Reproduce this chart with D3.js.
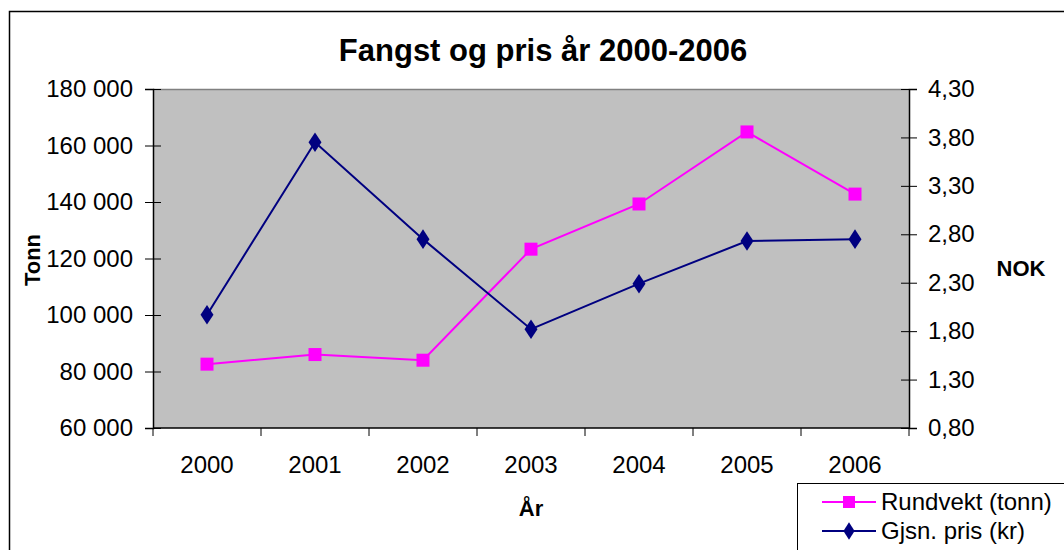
<!DOCTYPE html>
<html><head><meta charset="utf-8">
<script src="https://cdn.jsdelivr.net/npm/d3@7/dist/d3.min.js"></script>
<style>body{margin:0;background:#fff}svg{display:block}text{font-family:"Liberation Sans",Arial,sans-serif}</style>
</head><body><svg id="c" width="1064" height="550"></svg>
<script>
const years = ["2000","2001","2002","2003","2004","2005","2006"];
const rundvekt = [82600, 86000, 84000, 123300, 139300, 164800, 142800];
const pris = [1.97, 3.75, 2.75, 1.82, 2.29, 2.73, 2.75];
const leftTicks = [60000, 80000, 100000, 120000, 140000, 160000, 180000];
const rightTicks = [0.8, 1.3, 1.8, 2.3, 2.8, 3.3, 3.8, 4.3];

const svg = d3.select("#c");
const L = 153, R = 909, T = 89, B = 428;

svg.append("rect").attr("x", 9.5).attr("y", 11.5).attr("width", 1070).attr("height", 560)
  .attr("fill", "#fff").attr("stroke", "#000").attr("stroke-width", 1.5);

const x = d3.scaleBand().domain(years).range([L, R]).padding(0);
const yL = d3.scaleLinear().domain([60000, 180000]).range([B, T]);
const yR = d3.scaleLinear().domain([0.8, 4.3]).range([B, T]);

svg.append("rect").attr("x", L).attr("y", T).attr("width", R - L).attr("height", B - T).attr("fill", "#C0C0C0");
svg.append("line").attr("x1", L).attr("x2", R).attr("y1", T + 0.5).attr("y2", T + 0.5).attr("stroke", "#808080").attr("stroke-width", 1.5);

const fmtL = d => d3.format(",")(d).replace(/,/g, " ");
const fmtR = d => d3.format(".2f")(d).replace(".", ",");

const gL = svg.append("g").attr("transform", `translate(${L},0)`)
  .call(d3.axisLeft(yL).tickValues(leftTicks).tickFormat(fmtL).tickSize(8).tickPadding(12));
gL.selectAll(".tick line").attr("x2", -8).attr("x1", 8);
const gR = svg.append("g").attr("transform", `translate(${R},0)`)
  .call(d3.axisRight(yR).tickValues(rightTicks).tickFormat(fmtR).tickSize(8).tickPadding(11));
gR.selectAll(".tick line").attr("x1", -8).attr("x2", 8);
const gX = svg.append("g").attr("transform", `translate(0,${B})`)
  .call(d3.axisBottom(x).tickSize(0).tickPadding(28));
const bounds = years.map(d => x(d)).concat([R]);
gX.selectAll(".bt").data(bounds).enter().append("line").attr("class", "bt")
  .attr("x1", d => d).attr("x2", d => d).attr("y1", 0).attr("y2", 8).attr("stroke", "#000");

[gL, gR, gX].forEach(g => {
  g.selectAll("text").attr("font-size", 24).attr("fill", "#000").attr("font-family", '"Liberation Sans",Arial,sans-serif');
  g.selectAll("path.domain").attr("stroke", "#000").attr("stroke-width", 1.5);
  g.selectAll("line").attr("stroke", "#000");
});
gX.select("path.domain").remove();
svg.append("line").attr("x1", L).attr("x2", R).attr("y1", B).attr("y2", B).attr("stroke", "#000").attr("stroke-width", 1.5);

const cx = d => x(d) + x.bandwidth() / 2;

svg.append("path").datum(rundvekt)
  .attr("d", d3.line().x((d, i) => cx(years[i])).y(d => yL(d)))
  .attr("fill", "none").attr("stroke", "#FF00FF").attr("stroke-width", 2);
svg.selectAll(".sq").data(rundvekt).enter().append("rect")
  .attr("x", (d, i) => cx(years[i]) - 6.5).attr("y", d => yL(d) - 6.5)
  .attr("width", 13).attr("height", 13).attr("fill", "#FF00FF");

svg.append("path").datum(pris)
  .attr("d", d3.line().x((d, i) => cx(years[i])).y(d => yR(d)))
  .attr("fill", "none").attr("stroke", "#000080").attr("stroke-width", 2);
const dia = d3.symbol().type(d3.symbolDiamond).size(110);
svg.selectAll(".dm").data(pris).enter().append("path")
  .attr("transform", (d, i) => `translate(${cx(years[i])},${yR(d)}) scale(1.15,1)`)
  .attr("d", dia).attr("fill", "#000080");

svg.append("text").attr("x", 543).attr("y", 61).attr("text-anchor", "middle")
  .attr("font-size", 31).attr("font-weight", "bold").text("Fangst og pris år 2000-2006");
svg.append("text").attr("transform", "translate(40,260) rotate(-90)").attr("text-anchor", "middle")
  .attr("font-size", 22).attr("font-weight", "bold").text("Tonn");
svg.append("text").attr("x", 1021).attr("y", 276).attr("text-anchor", "middle")
  .attr("font-size", 22).attr("font-weight", "bold").text("NOK");
svg.append("text").attr("x", 531).attr("y", 516).attr("text-anchor", "middle")
  .attr("font-size", 22).attr("font-weight", "bold").text("År");

const lg = svg.append("g");
lg.append("rect").attr("x", 797.5).attr("y", 483.5).attr("width", 300).attr("height", 100)
  .attr("fill", "#fff").attr("stroke", "#000").attr("stroke-width", 1);
const items = [{name: "Rundvekt (tonn)", c: "#FF00FF", m: "sq", y: 502}, {name: "Gjsn. pris (kr)", c: "#000080", m: "dm", y: 531}];
items.forEach(it => {
  lg.append("line").attr("x1", 822).attr("x2", 876).attr("y1", it.y).attr("y2", it.y).attr("stroke", it.c).attr("stroke-width", 2);
  if (it.m === "sq") lg.append("rect").attr("x", 843).attr("y", it.y - 6).attr("width", 12).attr("height", 12).attr("fill", it.c);
  else lg.append("path").attr("transform", `translate(849,${it.y}) scale(1.1,1)`).attr("d", d3.symbol().type(d3.symbolDiamond).size(90)).attr("fill", it.c);
  lg.append("text").attr("x", 881).attr("y", it.y + 8).attr("font-size", 24).text(it.name);
});
</script></body></html>
